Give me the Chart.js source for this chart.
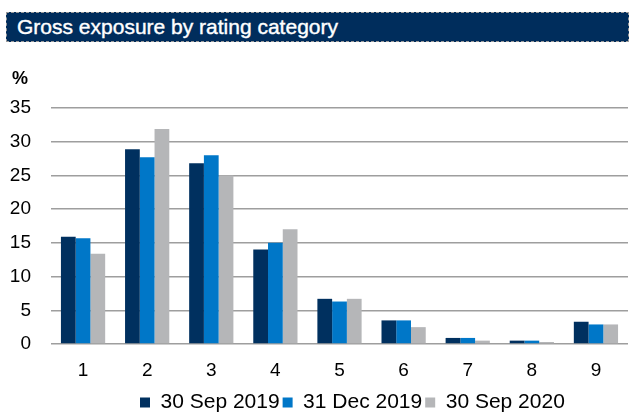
<!DOCTYPE html>
<html>
<head>
<meta charset="utf-8">
<script src="https://cdn.jsdelivr.net/npm/chart.js@4/dist/chart.umd.min.js"></script>
<style>
body { margin: 0; background: #fff; width: 629px; height: 413px; overflow: hidden; position: relative; font-family: "Liberation Sans", Arial, sans-serif; }
#banner { position: absolute; left: 6px; top: 12px; width: 611px; height: 28px; background: #002D5C; border: 1px dashed #9a9a9a; color: #fff; font-size: 21px; line-height: 28px; padding-left: 10px; box-sizing: content-box; -webkit-text-stroke: 0.4px #fff; }
#wrap { position: absolute; left: 0; top: 0; width: 629px; height: 413px; }
</style>
</head>
<body>
<div id="wrap"><canvas id="chart"></canvas></div>
<div id="banner">Gross exposure by rating category</div>
<script>
const categories = ["1", "2", "3", "4", "5", "6", "7", "8", "9"];
const sep2019 = [15.9, 28.9, 26.8, 14.0, 6.7, 3.5, 0.9, 0.5, 3.3];
const dec2019 = [15.7, 27.7, 28.0, 15.0, 6.3, 3.5, 0.9, 0.5, 2.9];
const sep2020 = [13.4, 31.9, 25.0, 17.0, 6.7, 2.5, 0.5, 0.3, 2.9];
const yTicks = [0, 5, 10, 15, 20, 25, 30, 35];

const FONT = "'Liberation Sans', Arial, sans-serif";

const layoutFix = {
  id: "layoutFix",
  beforeLayout(chart) {
    const lg = chart.legend;
    if (lg && !lg._fixed) {
      const fit = lg.fit.bind(lg);
      lg.fit = function () { fit(); this.height = 31; };
      lg._fixed = true;
    }
  },
  afterLayout(chart) {
    const lg = chart.legend;
    const w = lg.right - lg.left;
    lg.left = 137; lg.right = 137 + w;
    lg.top = 389; lg.bottom = 418;
  },
  afterDraw(chart) {
    const c = chart.ctx;
    c.save();
    c.font = "bold 18px " + FONT;
    c.fillStyle = "#000";
    c.textBaseline = "middle";
    c.fillText("%", 12, 79);
    c.restore();
  }
};

const ctx = document.getElementById("chart").getContext("2d");
new Chart(ctx, {
  type: "bar",
  data: {
    labels: categories,
    datasets: [
      { label: "30 Sep 2019", data: sep2019, backgroundColor: "#00305F" },
      { label: "31 Dec 2019", data: dec2019, backgroundColor: "#0077C8" },
      { label: "30 Sep 2020", data: sep2020, backgroundColor: "#B5B6B8" }
    ]
  },
  options: {
    responsive: true,
    maintainAspectRatio: false,
    animation: false,
    layout: { padding: { top: 108, left: 0, right: 1, bottom: 0 } },
    datasets: { bar: { categoryPercentage: 0.69, barPercentage: 1 } },
    plugins: {
      tooltip: { enabled: false },
      legend: {
        position: "bottom",
        align: "start",
        labels: {
          color: "#000",
          font: { family: FONT, size: 21 },
          boxWidth: 10,
          boxHeight: 10,
          padding: 3
        }
      }
    },
    scales: {
      x: {
        afterFit(axis) { axis.height = 38; },
        grid: { display: false, drawTicks: false },
        border: { display: false },
        ticks: { color: "#000", padding: 15, font: { family: FONT, size: 19 } }
      },
      y: {
        min: 0,
        max: 35,
        afterBuildTicks(axis) { axis.ticks = yTicks.map(v => ({ value: v })); },
        afterFit(axis) { axis.width = 51; },
        grid: { color: "#9E9E9E", lineWidth: 1.5, drawTicks: false },
        border: { display: false },
        ticks: { color: "#000", padding: 20, font: { family: FONT, size: 19 } }
      }
    }
  },
  plugins: [layoutFix]
});
</script>
</body>
</html>
